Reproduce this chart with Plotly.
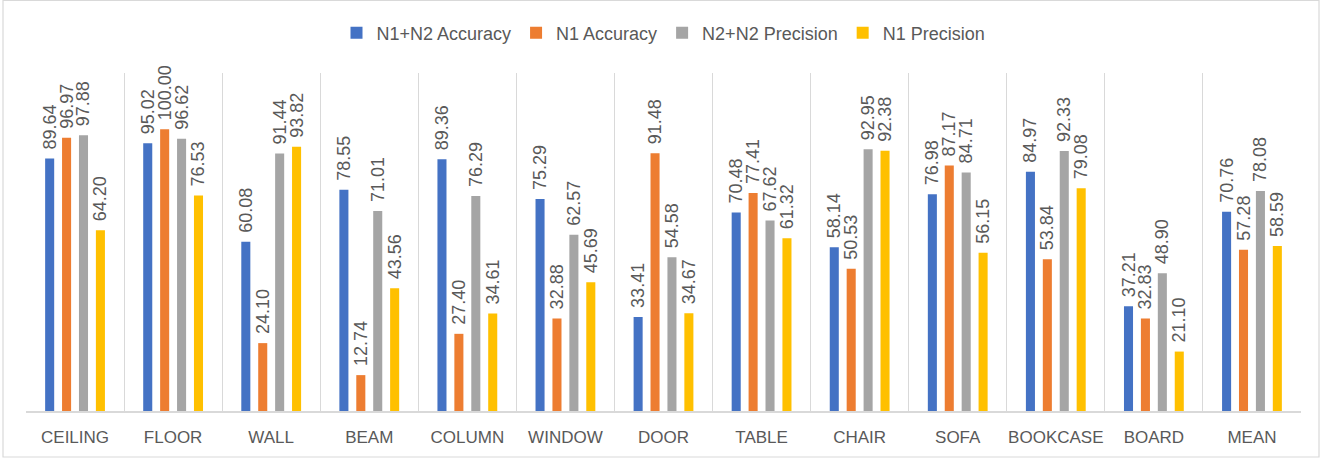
import plotly.graph_objects as go

categories = ["CEILING", "FLOOR", "WALL", "BEAM", "COLUMN", "WINDOW", "DOOR",
              "TABLE", "CHAIR", "SOFA", "BOOKCASE", "BOARD", "MEAN"]
n1n2_accuracy = [89.64, 95.02, 60.08, 78.55, 89.36, 75.29, 33.41, 70.48, 58.14, 76.98, 84.97, 37.21, 70.76]
n1_accuracy = [96.97, 100.00, 24.10, 12.74, 27.40, 32.88, 91.48, 77.41, 50.53, 87.17, 53.84, 32.83, 57.28]
n2n2_precision = [97.88, 96.62, 91.44, 71.01, 76.29, 62.57, 54.58, 67.62, 92.95, 84.71, 92.33, 48.90, 78.08]
n1_precision = [64.20, 76.53, 93.82, 43.56, 34.61, 45.69, 34.67, 61.32, 92.38, 56.15, 79.08, 21.10, 58.59]

series = [
    ("N1+N2 Accuracy", n1n2_accuracy, "#4472C4"),
    ("N1 Accuracy", n1_accuracy, "#ED7D31"),
    ("N2+N2 Precision", n2n2_precision, "#A5A5A5"),
    ("N1 Precision", n1_precision, "#FFC000"),
]

FONT = "Liberation Sans, Arial, sans-serif"
TXT = "#595959"

fig = go.Figure()
for name, vals, color in series:
    fig.add_trace(go.Bar(
        x=categories, y=vals, name=name,
        marker=dict(color=color, line=dict(width=0)),
        texttemplate="\u2004%{y:.2f}", textposition="outside", textangle=-90,
        textfont=dict(family=FONT, size=18, color=TXT),
        constraintext="none", cliponaxis=False,
    ))

W, H = 1325, 461
L, R, T, B = 26, 24, 73, 50
pw, ph = W - L - R, H - T - B

def px_x(x):
    return (x - L) / pw

def px_y(y):
    return (H - B - y) / ph

fig.update_layout(
    width=W, height=H,
    margin=dict(l=L, r=R, t=T, b=B, autoexpand=False),
    paper_bgcolor="white", plot_bgcolor="white",
    barmode="group", bargap=0.31, bargroupgap=0.465,
    font=dict(family=FONT, color=TXT),
    showlegend=True,
    legend=dict(orientation="h", x=0.5, xanchor="center", y=px_y(33), yanchor="middle",
                font=dict(family=FONT, size=18, color=TXT), itemwidth=30,
                traceorder="normal"),
    xaxis=dict(type="category", tickson="boundaries", showgrid=True, gridcolor="#D9D9D9",
               gridwidth=1, showline=True, linecolor="#D9D9D9", linewidth=1.5,
               ticks="", tickangle=0, automargin=False,
               tickfont=dict(family=FONT, size=17, color=TXT), ticklabelstandoff=10),
    yaxis=dict(range=[0, 120], visible=False, showgrid=False, zeroline=False),
    shapes=[dict(type="rect", xref="paper", yref="paper",
                 x0=px_x(3), x1=px_x(1319), y0=px_y(457), y1=px_y(0.5),
                 line=dict(color="#D9D9D9", width=1.2), layer="below")],
)

fig.write_html("out.html", config={"displayModeBar": False},
               post_script="document.body.style.margin='0';")
